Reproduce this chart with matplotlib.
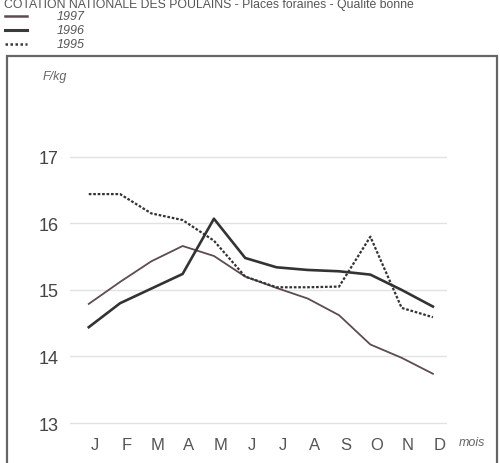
import matplotlib.pyplot as plt
import matplotlib.patches as patches
from matplotlib.lines import Line2D

plt.rcParams['font.family'] = ['Liberation Sans', 'DejaVu Sans']

# data
months = ['J', 'F', 'M', 'A', 'M', 'J', 'J', 'A', 'S', 'O', 'N', 'D']
y1997 = [14.79, 15.12, 15.43, 15.66, 15.51, 15.2, 15.03, 14.87, 14.62, 14.18, 13.98, 13.74]
y1996 = [14.44, 14.8, 15.02, 15.24, 16.07, 15.48, 15.34, 15.3, 15.28, 15.23, 15.0, 14.75]
y1995 = [16.44, 16.44, 16.15, 16.05, 15.74, 15.2, 15.04, 15.04, 15.05, 15.8, 14.73, 14.59]
yticks = [13, 14, 15, 16, 17]

W, H = 500, 464
fig = plt.figure(figsize=(5, 4.64), dpi=100)

def fx(px):
    return px / W

def fy(py):
    return 1 - py / H

# title (cut off at top in the scan)
fig.text(fx(4), fy(5), 'COTATION NATIONALE DES POULAINS - Places foraines - Qualité bonne',
         fontsize=8.8, color='#555', va='center', ha='left')

# legend outside the box
leg = [('1997', '#5e4b52', '-', 1.8), ('1996', '#3a3a3a', '-', 2.2), ('1995', '#3a3a3a', (0, (1, 1)), 1.8)]
for i, (lab, c, ls, lw) in enumerate(leg):
    yy = fy(17 + 14 * i)
    fig.add_artist(Line2D([fx(5), fx(27)], [yy, yy], color=c, linestyle=ls, linewidth=lw))
    fig.text(fx(57), yy, lab, fontsize=9, style='italic', color='#555', va='center')

# frame box
fig.add_artist(patches.Rectangle((fx(7), fy(480)), fx(490), fy(57) - fy(480),
                                 fill=False, edgecolor='#666', linewidth=1.6))

# data axes
ax = fig.add_axes([fx(70), fy(432), fx(447) - fx(70), fy(60) - fy(432)])
x = list(range(12))
ax.plot(x, y1997, color='#5e4b52', linewidth=1.3)
ax.plot(x, y1996, color='#333333', linewidth=1.9)
ax.plot(x, y1995, color='#333333', linewidth=1.6, linestyle=(0, (1.2, 0.8)))

ax.set_xlim(-0.6, 11.45)
ax.set_ylim(12.88, 18.47)
ax.set_yticks(yticks)
ax.set_yticklabels([str(v) for v in yticks], fontsize=13, color='#444')
ax.set_xticks([i + 0.2 for i in x])
ax.set_xticklabels(months, fontsize=12, color='#555')
ax.tick_params(length=0)
ax.tick_params(axis='y', pad=8)
ax.tick_params(axis='x', pad=4)
ax.grid(axis='y', color='#e2e2e2', linewidth=1)
for s in ax.spines.values():
    s.set_visible(False)

fig.text(fx(459), fy(443), 'mois', fontsize=9, style='italic', color='#666', va='center')
fig.text(fx(43), fy(77), 'F/kg', fontsize=9, style='italic', color='#666', va='center')

plt.savefig('out.png', dpi=100)
